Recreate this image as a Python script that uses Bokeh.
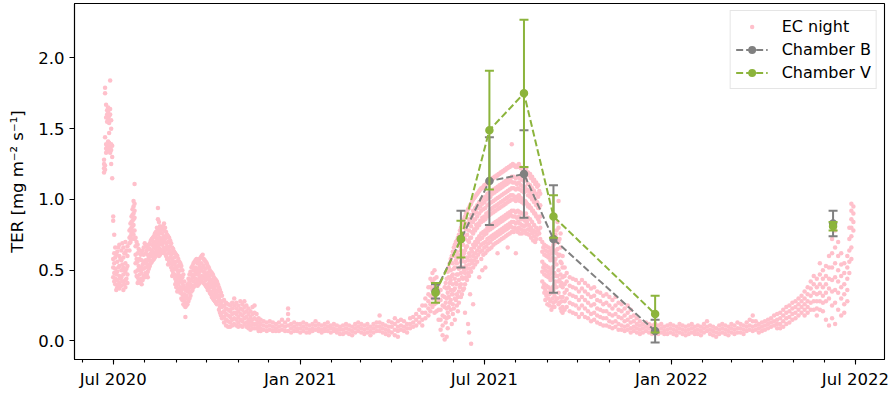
from datetime import datetime
import pandas as pd
from bokeh.plotting import figure
from bokeh.models import (ColumnDataSource, FixedTicker, DatetimeTickFormatter,
                          NumeralTickFormatter, Range1d, Legend, LegendItem)
from bokeh.embed import file_html
from bokeh.resources import INLINE

# ---------------- data ----------------
# EC night-time TER: several readings per date (scatter of the night values)
ec_2020_dates = [
    "2020-06-22", "2020-06-23", "2020-06-24", "2020-06-25", "2020-06-26", "2020-06-27",
    "2020-06-28", "2020-06-29", "2020-06-30", "2020-07-01", "2020-07-02", "2020-07-03",
    "2020-07-05", "2020-07-07", "2020-07-09", "2020-07-11", "2020-07-13", "2020-07-15",
    "2020-07-17", "2020-07-18", "2020-07-19", "2020-07-20", "2020-07-21", "2020-07-22",
    "2020-07-23", "2020-07-25", "2020-07-27", "2020-07-29", "2020-07-31", "2020-08-02",
    "2020-08-04", "2020-08-06", "2020-08-08", "2020-08-10", "2020-08-12", "2020-08-14",
    "2020-08-16", "2020-08-18", "2020-08-20", "2020-08-22", "2020-08-24", "2020-08-26",
    "2020-08-28", "2020-08-30", "2020-09-01", "2020-09-03", "2020-09-05", "2020-09-07",
    "2020-09-09", "2020-09-10", "2020-09-12", "2020-09-14", "2020-09-16", "2020-09-18",
    "2020-09-20", "2020-09-22", "2020-09-24", "2020-09-26", "2020-09-28", "2020-09-30",
    "2020-10-02", "2020-10-04", "2020-10-06", "2020-10-08", "2020-10-10", "2020-10-12",
    "2020-10-14", "2020-10-16", "2020-10-18", "2020-10-20", "2020-10-22", "2020-10-24",
    "2020-10-26", "2020-10-28", "2020-10-30", "2020-11-01", "2020-11-03", "2020-11-05",
    "2020-11-07", "2020-11-09", "2020-11-11", "2020-11-13", "2020-11-15", "2020-11-17",
    "2020-11-19", "2020-11-21", "2020-11-23", "2020-11-26", "2020-11-29", "2020-12-02",
    "2020-12-05", "2020-12-08", "2020-12-11", "2020-12-14", "2020-12-17", "2020-12-20",
    "2020-12-23", "2020-12-26", "2020-12-29",
]
ec_2020_values = [
    [1.19, 1.22, 1.25, 1.28], [1.21, 1.24, 1.44, 1.79, 1.75], [1.33, 1.36, 1.39, 1.67, 1.58],
    [1.35, 1.38, 1.55, 1.60, 1.63], [1.34, 1.37, 1.41, 1.57, 1.62, 1.65], [1.36, 1.40, 1.47, 1.54, 1.59],
    [1.33, 1.37, 1.60, 1.64, 1.84], [1.25, 1.35, 1.39, 1.50, 1.56], [1.15, 1.30, 1.38],
    [0.88, 0.85, 0.45, 0.52, 0.58], [0.75, 0.62, 0.55, 0.48, 0.42], [0.66, 0.59, 0.51, 0.44, 0.40],
    [0.63, 0.56, 0.49, 0.43, 0.38], [0.68, 0.60, 0.53, 0.46, 0.41, 0.37], [0.64, 0.57, 0.50, 0.45, 0.39],
    [0.66, 0.59, 0.52, 0.47, 0.42, 0.36], [0.70, 0.62, 0.55, 0.49, 0.43, 0.38], [0.67, 0.60, 0.53, 0.47, 0.41],
    [0.78, 0.73, 0.69, 0.64], [0.83, 0.79, 0.74, 0.70], [0.88, 0.84, 0.80, 0.76, 0.72],
    [0.93, 0.89, 0.85, 0.81, 0.77], [0.99, 0.95, 0.90, 0.86, 0.82, 0.75], [1.11, 0.97, 0.92, 0.87, 0.78, 0.72],
    [0.73, 0.67, 0.61, 0.55, 0.49], [0.68, 0.62, 0.56, 0.50, 0.45, 0.41], [0.64, 0.58, 0.52, 0.47, 0.43],
    [0.63, 0.57, 0.52, 0.48, 0.44, 0.40], [0.66, 0.61, 0.56, 0.51, 0.46], [0.67, 0.62, 0.57, 0.52, 0.48],
    [0.66, 0.61, 0.57, 0.53, 0.49, 0.45], [0.69, 0.65, 0.61, 0.57, 0.53], [0.72, 0.68, 0.64, 0.60, 0.56],
    [0.74, 0.70, 0.66, 0.62, 0.58], [0.77, 0.73, 0.69, 0.65, 0.61], [0.94, 0.86, 0.79, 0.75, 0.71, 0.67, 0.63],
    [0.81, 0.77, 0.73, 0.69, 0.65, 0.61], [0.80, 0.76, 0.72, 0.68, 0.64], [0.83, 0.78, 0.74, 0.70, 0.66, 0.62],
    [0.77, 0.73, 0.69, 0.65, 0.60], [0.74, 0.70, 0.66, 0.62, 0.58, 0.54], [0.71, 0.67, 0.63, 0.59, 0.55],
    [0.66, 0.62, 0.58, 0.54, 0.50, 0.46], [0.63, 0.59, 0.55, 0.51, 0.47], [0.61, 0.56, 0.51, 0.46, 0.42, 0.38],
    [0.58, 0.53, 0.48, 0.44, 0.40, 0.36], [0.55, 0.50, 0.46, 0.42, 0.38, 0.34], [0.50, 0.45, 0.41, 0.37, 0.33, 0.29],
    [0.42, 0.37, 0.33, 0.29, 0.25], [0.36, 0.31, 0.27, 0.24, 0.17], [0.40, 0.35, 0.30, 0.26],
    [0.47, 0.42, 0.38, 0.34, 0.30], [0.52, 0.47, 0.43, 0.39, 0.35], [0.55, 0.50, 0.46, 0.42, 0.38],
    [0.57, 0.52, 0.48, 0.44, 0.40], [0.55, 0.51, 0.47, 0.43, 0.39], [0.58, 0.53, 0.49, 0.45, 0.41],
    [0.60, 0.55, 0.50, 0.46, 0.42], [0.58, 0.53, 0.49, 0.45, 0.41], [0.56, 0.51, 0.47, 0.43, 0.39],
    [0.53, 0.48, 0.44, 0.40, 0.36], [0.50, 0.46, 0.42, 0.38, 0.34], [0.48, 0.43, 0.39, 0.35, 0.31],
    [0.45, 0.41, 0.37, 0.33, 0.29], [0.43, 0.39, 0.35, 0.31, 0.27], [0.40, 0.36, 0.32, 0.28],
    [0.36, 0.32, 0.28, 0.24, 0.20], [0.32, 0.28, 0.24, 0.20, 0.16], [0.29, 0.25, 0.21, 0.17, 0.13],
    [0.27, 0.23, 0.19, 0.15, 0.11], [0.26, 0.22, 0.18, 0.14, 0.10], [0.25, 0.21, 0.17, 0.13, 0.10],
    [0.27, 0.23, 0.19, 0.15, 0.11], [0.30, 0.25, 0.20, 0.16, 0.12], [0.27, 0.23, 0.19, 0.15, 0.11],
    [0.25, 0.21, 0.17, 0.13, 0.10], [0.28, 0.23, 0.19, 0.15, 0.11], [0.26, 0.22, 0.18, 0.14, 0.10],
    [0.28, 0.24, 0.20, 0.16, 0.12], [0.25, 0.21, 0.17, 0.13, 0.10], [0.23, 0.19, 0.15, 0.12, 0.09],
    [0.21, 0.17, 0.14, 0.11, 0.08], [0.24, 0.19, 0.15, 0.12, 0.09], [0.25, 0.20, 0.16, 0.12, 0.09],
    [0.19, 0.15, 0.12, 0.09], [0.16, 0.13, 0.10, 0.07], [0.15, 0.12, 0.09, 0.07],
    [0.14, 0.11, 0.08], [0.13, 0.10, 0.07], [0.14, 0.11, 0.08],
    [0.13, 0.10, 0.07], [0.12, 0.09, 0.07], [0.13, 0.10, 0.07],
    [0.15, 0.11, 0.08], [0.13, 0.10, 0.07], [0.23, 0.19, 0.15, 0.11, 0.07],
    [0.12, 0.09, 0.06], [0.13, 0.10, 0.07], [0.12, 0.09, 0.07],
]

# extra readings in between, for the noisier parts of 2020
ec_2020_extra_dates = [
    "2020-07-04", "2020-07-06", "2020-07-08", "2020-07-10", "2020-07-12", "2020-07-14",
    "2020-07-24", "2020-07-26", "2020-07-28", "2020-07-30", "2020-08-01", "2020-08-03",
    "2020-08-05", "2020-08-07", "2020-08-09", "2020-08-11", "2020-08-13", "2020-08-15",
    "2020-08-17", "2020-08-19", "2020-08-21", "2020-08-23", "2020-08-25", "2020-08-27",
    "2020-08-29", "2020-08-31", "2020-09-02", "2020-09-04", "2020-09-06", "2020-09-08",
    "2020-09-11", "2020-09-13", "2020-09-15", "2020-09-17", "2020-09-19", "2020-09-21",
    "2020-09-23", "2020-09-25", "2020-09-27", "2020-09-29", "2020-10-01", "2020-10-03",
    "2020-10-05", "2020-10-07", "2020-10-09", "2020-10-11", "2020-10-13", "2020-10-15",
]
ec_2020_extra_values = [
    [0.61, 0.47, 0.36], [0.66, 0.52, 0.40], [0.58, 0.44, 0.39], [0.69, 0.54, 0.42],
    [0.62, 0.50, 0.40], [0.64, 0.51, 0.44], [0.70, 0.58, 0.46], [0.65, 0.53, 0.43],
    [0.61, 0.50, 0.41], [0.64, 0.54, 0.43], [0.69, 0.55, 0.45], [0.64, 0.55, 0.47],
    [0.68, 0.59, 0.51], [0.71, 0.62, 0.55], [0.73, 0.63, 0.57], [0.76, 0.67, 0.59],
    [0.80, 0.71, 0.63], [0.84, 0.76, 0.68, 0.60], [0.79, 0.70, 0.62], [0.81, 0.71, 0.63],
    [0.80, 0.72, 0.64], [0.75, 0.67, 0.58], [0.73, 0.64, 0.56], [0.69, 0.61, 0.52],
    [0.65, 0.56, 0.48], [0.62, 0.53, 0.44, 0.40], [0.60, 0.50, 0.41, 0.35], [0.56, 0.46, 0.37],
    [0.53, 0.43, 0.35, 0.30], [0.47, 0.39, 0.31, 0.26], [0.38, 0.32, 0.25], [0.44, 0.36, 0.28],
    [0.49, 0.40, 0.32], [0.53, 0.45, 0.36], [0.56, 0.47, 0.39], [0.58, 0.50, 0.41],
    [0.56, 0.48, 0.40], [0.59, 0.51, 0.43], [0.61, 0.52, 0.44], [0.57, 0.48, 0.40],
    [0.55, 0.46, 0.38], [0.52, 0.44, 0.36], [0.49, 0.41, 0.33], [0.47, 0.38, 0.30],
    [0.44, 0.36, 0.28], [0.42, 0.34, 0.26], [0.38, 0.30, 0.22], [0.34, 0.26, 0.18],
]

ec_2021_dates = [
    "2021-01-01", "2021-01-04", "2021-01-07", "2021-01-10", "2021-01-13", "2021-01-16",
    "2021-01-19", "2021-01-22", "2021-01-25", "2021-01-28", "2021-01-31", "2021-02-03",
    "2021-02-06", "2021-02-09", "2021-02-12", "2021-02-15", "2021-02-18", "2021-02-21",
    "2021-02-24", "2021-02-27", "2021-03-02", "2021-03-05", "2021-03-08", "2021-03-11",
    "2021-03-14", "2021-03-17", "2021-03-20", "2021-03-23", "2021-03-26", "2021-03-29",
    "2021-04-01", "2021-04-04", "2021-04-07", "2021-04-10", "2021-04-13", "2021-04-16",
    "2021-04-19", "2021-04-22", "2021-04-25", "2021-04-28", "2021-05-01", "2021-05-04",
    "2021-05-07", "2021-05-09", "2021-05-11", "2021-05-13", "2021-05-15", "2021-05-17",
    "2021-05-19", "2021-05-21", "2021-05-23", "2021-05-25", "2021-05-27", "2021-05-29",
    "2021-05-31", "2021-06-02", "2021-06-04", "2021-06-06", "2021-06-08", "2021-06-10",
    "2021-06-12", "2021-06-14", "2021-06-16", "2021-06-18", "2021-06-20", "2021-06-22",
    "2021-06-24", "2021-06-26", "2021-06-28", "2021-06-30", "2021-07-02", "2021-07-04",
    "2021-07-06", "2021-07-08", "2021-07-10", "2021-07-12", "2021-07-14", "2021-07-16",
    "2021-07-18", "2021-07-20", "2021-07-22", "2021-07-24", "2021-07-26", "2021-07-28",
    "2021-07-30", "2021-08-01", "2021-08-03", "2021-08-05", "2021-08-07", "2021-08-09",
    "2021-08-11", "2021-08-13", "2021-08-15", "2021-08-17", "2021-08-19", "2021-08-21",
    "2021-08-23", "2021-08-25", "2021-08-27", "2021-08-29", "2021-08-31", "2021-09-02",
    "2021-09-04", "2021-09-06", "2021-09-08", "2021-09-10", "2021-09-12", "2021-09-14",
    "2021-09-16", "2021-09-18", "2021-09-20", "2021-09-23", "2021-09-26", "2021-09-29",
    "2021-10-02", "2021-10-05", "2021-10-08", "2021-10-11", "2021-10-14", "2021-10-17",
    "2021-10-20", "2021-10-23", "2021-10-26", "2021-10-29", "2021-11-01", "2021-11-04",
    "2021-11-07", "2021-11-10", "2021-11-13", "2021-11-16", "2021-11-19", "2021-11-22",
    "2021-11-25", "2021-11-28", "2021-12-01", "2021-12-04", "2021-12-07", "2021-12-10",
    "2021-12-13", "2021-12-16", "2021-12-19", "2021-12-22", "2021-12-25", "2021-12-28",
    "2021-12-31",
]
ec_2021_values = [
    [0.12, 0.09, 0.06], [0.13, 0.10, 0.07], [0.12, 0.09, 0.06], [0.11, 0.08, 0.06],
    [0.12, 0.09, 0.07], [0.14, 0.11, 0.08], [0.12, 0.09, 0.07], [0.11, 0.08, 0.06],
    [0.12, 0.09, 0.07], [0.13, 0.10, 0.07], [0.11, 0.09, 0.06], [0.12, 0.09, 0.07],
    [0.11, 0.08, 0.06], [0.10, 0.08, 0.05], [0.11, 0.08, 0.05], [0.12, 0.09, 0.06],
    [0.11, 0.08, 0.05], [0.10, 0.07, 0.04], [0.12, 0.09, 0.06], [0.13, 0.10, 0.07],
    [0.12, 0.09, 0.06], [0.11, 0.08, 0.05], [0.12, 0.09, 0.06], [0.10, 0.07, 0.04],
    [0.12, 0.09, 0.06], [0.13, 0.10, 0.07], [0.18, 0.13, 0.10, 0.07], [0.12, 0.09, 0.06],
    [0.11, 0.08, 0.05], [0.14, 0.10, 0.07, 0.04], [0.13, 0.10, 0.06], [0.16, 0.12, 0.08, 0.04],
    [0.14, 0.10, 0.07, 0.03], [0.15, 0.11, 0.08], [0.14, 0.10, 0.07], [0.12, 0.09, 0.06],
    [0.16, 0.12, 0.09], [0.17, 0.13, 0.10], [0.19, 0.15, 0.11], [0.22, 0.17, 0.13],
    [0.25, 0.20, 0.15, 0.11], [0.30, 0.25, 0.20, 0.16],
    [0.38, 0.33, 0.28, 0.23, 0.18], [0.44, 0.38, 0.32, 0.26, 0.21], [0.48, 0.42, 0.36, 0.30, 0.24],
    [0.50, 0.44, 0.38, 0.32, 0.26, 0.20], [0.45, 0.39, 0.33, 0.27, 0.21], [0.40, 0.34, 0.28, 0.22, 0.15],
    [0.36, 0.29, 0.22, 0.15, 0.08], [0.32, 0.25, 0.18, 0.11, 0.04], [0.38, 0.31, 0.24, 0.17, 0.01],
    [0.44, 0.37, 0.30, 0.23, 0.16, 0.03], [0.52, 0.45, 0.38, 0.31, 0.24, 0.17],
    [0.58, 0.50, 0.43, 0.36, 0.29, 0.22], [0.63, 0.55, 0.47, 0.40, 0.33, 0.26, 0.19],
    [0.68, 0.60, 0.52, 0.44, 0.37, 0.30, 0.15], [0.71, 0.63, 0.55, 0.47, 0.40, 0.33, 0.25],
    [0.75, 0.67, 0.59, 0.51, 0.43, 0.35, 0.27], [0.80, 0.72, 0.64, 0.56, 0.48, 0.40, 0.31],
    [0.84, 0.76, 0.68, 0.60, 0.52, 0.44, 0.36], [0.88, 0.80, 0.72, 0.64, 0.56, 0.48, 0.40, 0.20],
    [0.91, 0.83, 0.75, 0.67, 0.59, 0.51, 0.43], [0.94, 0.86, 0.78, 0.70, 0.62, 0.54, 0.46, 0.06],
    [0.97, 0.89, 0.81, 0.73, 0.65, 0.57, 0.49, -0.02], [1.00, 0.92, 0.84, 0.76, 0.68, 0.60, 0.52, 0.26],
    [1.02, 0.94, 0.86, 0.78, 0.70, 0.62, 0.54], [1.04, 0.96, 0.88, 0.80, 0.72, 0.64, 0.56],
    [1.06, 0.98, 0.90, 0.82, 0.74, 0.66, 0.45], [1.08, 1.00, 0.92, 0.84, 0.76, 0.68, 0.58],
    [1.09, 1.01, 0.93, 0.85, 0.77, 0.69, 0.61], [1.10, 1.02, 0.94, 0.86, 0.78, 0.70, 0.62, 0.52],
    [1.12, 1.04, 0.96, 0.88, 0.80, 0.72, 0.64], [1.13, 1.05, 0.97, 0.89, 0.81, 0.73, 0.65],
    [1.14, 1.06, 0.98, 0.90, 0.82, 0.74, 0.66], [1.15, 1.07, 0.99, 0.91, 0.83, 0.75, 0.68],
    [1.16, 1.08, 1.00, 0.92, 0.84, 0.76, 0.69], [1.17, 1.09, 1.01, 0.93, 0.85, 0.77, 0.70, 0.62],
    [1.18, 1.10, 1.02, 0.94, 0.86, 0.78, 0.71], [1.19, 1.11, 1.03, 0.95, 0.87, 0.79, 0.72],
    [1.20, 1.12, 1.04, 0.96, 0.88, 0.80, 0.73], [1.21, 1.13, 1.05, 0.97, 0.89, 0.81, 0.74],
    [1.22, 1.14, 1.06, 0.98, 0.90, 0.82, 0.75, 0.66], [1.23, 1.15, 1.07, 0.99, 0.91, 0.83, 0.76],
    [1.39, 1.24, 1.16, 1.08, 1.00, 0.92, 0.84, 0.77], [1.24, 1.16, 1.08, 1.00, 0.92, 0.84, 0.77],
    [1.23, 1.15, 1.07, 0.99, 0.91, 0.83, 0.62], [1.24, 1.16, 1.08, 1.00, 0.92, 0.84, 0.77],
    [1.23, 1.15, 1.07, 0.99, 0.91, 0.83, 0.76], [1.22, 1.14, 1.06, 0.98, 0.90, 0.82, 0.76],
    [1.21, 1.13, 1.05, 0.97, 0.89, 0.81], [1.22, 1.14, 1.06, 0.98, 0.90, 0.82, 0.76],
    [1.19, 1.11, 1.03, 0.95, 0.87, 0.79], [1.18, 1.10, 1.02, 0.94, 0.86, 0.78],
    [1.16, 1.08, 1.00, 0.92, 0.84, 0.76], [1.14, 1.06, 0.98, 0.90, 0.82, 0.74],
    [1.12, 1.04, 0.96, 0.88, 0.80, 0.72], [1.10, 1.02, 0.94, 0.86, 0.78],
    [1.04, 0.96, 0.88, 0.80, 0.72], [0.70, 0.63, 0.56, 0.49, 0.42],
    [0.68, 0.61, 0.54, 0.47, 0.40, 0.34], [0.67, 0.60, 0.53, 0.46, 0.39, 0.32],
    [0.66, 0.59, 0.52, 0.45, 0.38, 0.30], [0.64, 0.57, 0.50, 0.43, 0.36, 0.28],
    [0.66, 0.59, 0.52, 0.45, 0.38, 0.30, 0.24], [0.72, 0.64, 0.56, 0.48, 0.40, 0.32, 0.24],
    [0.78, 0.70, 0.62, 0.54, 0.46, 0.38, 0.30], [0.99, 0.80, 0.70, 0.60, 0.50, 0.42, 0.34, 0.26],
    [0.76, 0.66, 0.56, 0.47, 0.39, 0.31, 0.23], [0.60, 0.52, 0.45, 0.38, 0.31, 0.24, 0.20],
    [0.52, 0.46, 0.40, 0.34, 0.28, 0.22], [0.48, 0.42, 0.36, 0.30, 0.24],
    [0.45, 0.39, 0.33, 0.27, 0.21], [0.44, 0.38, 0.32, 0.26, 0.20], [0.43, 0.37, 0.31, 0.25, 0.19],
    [0.41, 0.35, 0.29, 0.23, 0.17], [0.43, 0.37, 0.31, 0.25, 0.19], [0.41, 0.35, 0.29, 0.23, 0.17],
    [0.39, 0.33, 0.27, 0.21, 0.16], [0.37, 0.31, 0.25, 0.19, 0.14], [0.38, 0.32, 0.26, 0.20, 0.15],
    [0.35, 0.29, 0.23, 0.18, 0.13], [0.34, 0.28, 0.22, 0.17, 0.12], [0.32, 0.26, 0.21, 0.16, 0.11],
    [0.33, 0.27, 0.21, 0.16, 0.11], [0.31, 0.25, 0.19, 0.14, 0.10], [0.29, 0.23, 0.18, 0.13, 0.09],
    [0.31, 0.25, 0.19, 0.14, 0.10], [0.27, 0.22, 0.17, 0.12, 0.08], [0.26, 0.21, 0.16, 0.11, 0.08],
    [0.23, 0.18, 0.14, 0.10, 0.07], [0.25, 0.20, 0.15, 0.11, 0.08], [0.22, 0.17, 0.13, 0.09, 0.06],
    [0.18, 0.14, 0.10, 0.07], [0.16, 0.12, 0.09, 0.06], [0.14, 0.11, 0.08, 0.05],
    [0.12, 0.09, 0.06], [0.13, 0.10, 0.07], [0.12, 0.09, 0.06],
    [0.11, 0.08, 0.05], [0.12, 0.09, 0.06], [0.11, 0.08, 0.05], [0.12, 0.09, 0.06],
    [0.10, 0.07, 0.05], [0.11, 0.08, 0.05], [0.12, 0.09, 0.06],
]

# extra readings in between, for the dense summer of 2021
ec_2021_extra_dates = [
    "2021-05-24", "2021-05-26", "2021-05-28", "2021-05-30", "2021-06-01", "2021-06-03",
    "2021-06-05", "2021-06-07", "2021-06-09", "2021-06-11", "2021-06-13", "2021-06-15",
    "2021-06-17", "2021-06-19", "2021-06-21", "2021-06-23", "2021-06-25", "2021-06-27",
    "2021-06-29", "2021-07-01", "2021-07-03", "2021-07-05", "2021-07-07", "2021-07-09",
    "2021-07-11", "2021-07-13", "2021-07-15", "2021-07-17", "2021-07-19", "2021-07-21",
    "2021-07-23", "2021-07-25", "2021-07-27", "2021-07-29", "2021-07-31", "2021-08-02",
    "2021-08-04", "2021-08-06", "2021-08-08", "2021-08-10", "2021-08-12", "2021-08-14",
    "2021-08-16", "2021-08-18", "2021-08-20", "2021-08-22", "2021-08-24", "2021-08-28",
    "2021-08-30", "2021-09-01", "2021-09-03", "2021-09-05", "2021-09-07", "2021-09-09",
    "2021-09-11", "2021-09-13", "2021-09-15",
]
ec_2021_extra_values = [
    [0.41, 0.27, 0.13], [0.49, 0.34, 0.20, 0.09], [0.55, 0.41, 0.27], [0.60, 0.46, 0.33, 0.12],
    [0.66, 0.51, 0.36, 0.23], [0.70, 0.57, 0.41, 0.29], [0.73, 0.61, 0.47, 0.31, 0.21],
    [0.78, 0.68, 0.52, 0.38], [0.82, 0.70, 0.58, 0.45, 0.33], [0.86, 0.74, 0.62, 0.50, 0.37],
    [0.90, 0.79, 0.66, 0.53, 0.45], [0.93, 0.82, 0.71, 0.57, 0.48, 0.12],
    [0.96, 0.84, 0.73, 0.60, 0.51, 0.33], [0.99, 0.87, 0.77, 0.63, 0.55],
    [1.01, 0.90, 0.79, 0.66, 0.57], [1.03, 0.91, 0.82, 0.68, 0.59], [1.05, 0.94, 0.83, 0.70, 0.61],
    [1.07, 0.95, 0.85, 0.72, 0.63], [1.08, 0.97, 0.87, 0.73, 0.64, 0.50],
    [1.10, 0.98, 0.88, 0.75, 0.66], [1.11, 1.00, 0.90, 0.76, 0.67], [1.13, 1.01, 0.91, 0.78, 0.69],
    [1.14, 1.02, 0.93, 0.79, 0.70], [1.15, 1.04, 0.94, 0.80, 0.72], [1.16, 1.05, 0.95, 0.81, 0.73],
    [1.17, 1.06, 0.96, 0.82, 0.74], [1.18, 1.07, 0.97, 0.83, 0.75], [1.19, 1.08, 0.98, 0.84, 0.76],
    [1.20, 1.09, 0.99, 0.85, 0.77], [1.21, 1.10, 1.00, 0.86, 0.78], [1.22, 1.11, 1.01, 0.87, 0.79],
    [1.23, 1.12, 1.02, 0.88, 0.80], [1.24, 1.13, 1.03, 0.89, 0.81], [1.25, 1.12, 1.03, 0.88, 0.80],
    [1.24, 1.12, 1.02, 0.88, 0.80], [1.23, 1.11, 1.02, 0.87, 0.79], [1.25, 1.12, 1.03, 0.88, 0.80],
    [1.22, 1.10, 1.01, 0.86, 0.79], [1.21, 1.09, 1.00, 0.86, 0.78], [1.20, 1.09, 0.99, 0.85, 0.78],
    [1.19, 1.07, 0.97, 0.84, 0.76], [1.17, 1.06, 0.96, 0.82, 0.75], [1.15, 1.04, 0.94, 0.80, 0.73],
    [1.13, 1.02, 0.92, 0.78, 0.71], [1.11, 1.00, 0.90, 0.77, 0.70], [1.09, 0.98, 0.88, 0.75],
    [1.06, 0.94, 0.84, 0.76], [0.66, 0.52, 0.38], [0.64, 0.50, 0.36, 0.29],
    [0.63, 0.49, 0.34, 0.26], [0.61, 0.47, 0.33, 0.25], [0.62, 0.48, 0.34, 0.22],
    [0.68, 0.52, 0.36, 0.27], [0.75, 0.58, 0.42, 0.28], [0.84, 0.65, 0.46, 0.30],
    [0.72, 0.61, 0.43, 0.27], [0.55, 0.41, 0.28, 0.21],
]

ec_2022_dates = [
    "2022-01-03", "2022-01-06", "2022-01-09", "2022-01-12", "2022-01-15", "2022-01-18",
    "2022-01-21", "2022-01-24", "2022-01-27", "2022-01-30", "2022-02-02", "2022-02-05",
    "2022-02-08", "2022-02-11", "2022-02-14", "2022-02-17", "2022-02-20", "2022-02-23",
    "2022-02-26", "2022-03-01", "2022-03-04", "2022-03-07", "2022-03-10", "2022-03-13",
    "2022-03-16", "2022-03-19", "2022-03-22", "2022-03-25", "2022-03-28", "2022-03-31",
    "2022-04-03", "2022-04-06", "2022-04-09", "2022-04-12", "2022-04-15", "2022-04-18",
    "2022-04-21", "2022-04-24", "2022-04-27", "2022-04-30", "2022-05-03", "2022-05-06",
    "2022-05-09", "2022-05-12", "2022-05-15", "2022-05-18", "2022-05-21", "2022-05-24",
    "2022-05-27", "2022-05-30", "2022-06-02", "2022-06-05", "2022-06-08", "2022-06-11",
    "2022-06-14", "2022-06-17", "2022-06-20", "2022-06-23", "2022-06-25", "2022-06-27",
    "2022-06-29",
]
ec_2022_values = [
    [0.11, 0.08, 0.05], [0.10, 0.07, 0.04], [0.12, 0.09, 0.06], [0.11, 0.08, 0.05],
    [0.10, 0.07, 0.04], [0.11, 0.08, 0.05], [0.12, 0.09, 0.06], [0.10, 0.07, 0.05],
    [0.11, 0.08, 0.05], [0.10, 0.07, 0.04], [0.12, 0.09, 0.06], [0.14, 0.10, 0.07],
    [0.11, 0.08, 0.05], [0.10, 0.07, 0.04], [0.09, 0.06, 0.03], [0.11, 0.08, 0.05],
    [0.12, 0.09, 0.06], [0.11, 0.08, 0.05], [0.10, 0.07, 0.04], [0.12, 0.09, 0.06],
    [0.11, 0.08, 0.05], [0.13, 0.09, 0.06], [0.12, 0.09, 0.06], [0.11, 0.08, 0.05],
    [0.13, 0.10, 0.07], [0.15, 0.11, 0.08], [0.18, 0.14, 0.10, 0.07], [0.14, 0.11, 0.08],
    [0.12, 0.09, 0.06], [0.13, 0.10, 0.07], [0.14, 0.11, 0.08], [0.15, 0.12, 0.09],
    [0.16, 0.13, 0.10], [0.18, 0.14, 0.11], [0.19, 0.15, 0.12, 0.09], [0.20, 0.16, 0.12, 0.09],
    [0.22, 0.18, 0.14, 0.10], [0.24, 0.20, 0.16, 0.12], [0.25, 0.21, 0.17, 0.13],
    [0.27, 0.23, 0.19, 0.15], [0.28, 0.24, 0.20, 0.16], [0.30, 0.26, 0.22, 0.18],
    [0.32, 0.28, 0.24, 0.20], [0.35, 0.30, 0.26, 0.22, 0.18], [0.38, 0.33, 0.28, 0.24, 0.20],
    [0.42, 0.37, 0.32, 0.27, 0.22], [0.46, 0.40, 0.34, 0.28, 0.22], [0.44, 0.38, 0.33, 0.28, 0.23, 0.18],
    [0.55, 0.47, 0.40, 0.34, 0.28, 0.22], [0.50, 0.44, 0.38, 0.32, 0.27, 0.21],
    [0.53, 0.46, 0.40, 0.34, 0.28, 0.15], [0.60, 0.52, 0.44, 0.37, 0.30, 0.11],
    [0.72, 0.62, 0.52, 0.43, 0.35, 0.25, 0.16], [0.78, 0.66, 0.55, 0.45, 0.36, 0.27, 0.12],
    [0.70, 0.60, 0.50, 0.42, 0.34, 0.22], [0.62, 0.54, 0.46, 0.38, 0.30, 0.18],
    [0.55, 0.48, 0.40, 0.33, 0.26, 0.20], [0.60, 0.52, 0.44, 0.36, 0.28],
    [0.80, 0.72, 0.64, 0.56, 0.48], [0.97, 0.92, 0.86, 0.80, 0.74, 0.66, 0.58],
    [0.95, 0.90, 0.84, 0.78],
]

# Chamber campaigns: mean TER and error (half-length of the error bar)
chamber_dates = ["2021-05-14", "2021-06-08", "2021-07-06", "2021-08-09",
                 "2021-09-07", "2021-12-16", "2022-06-09"]
chamber_b_mean = [0.35, 0.72, 1.13, 1.18, 0.72, 0.07, 0.83]
chamber_b_err = [0.05, 0.20, 0.31, 0.31, 0.38, 0.08, 0.09]
chamber_v_mean = [0.34, 0.72, 1.49, 1.75, 0.88, 0.19, 0.81]
chamber_v_err = [0.07, 0.13, 0.42, 0.52, 0.15, 0.13, 0.03]
connected_campaigns = 6   # the first six campaigns are joined by a dashed line

x_major_ticks = ["2020-07-01", "2021-01-01", "2021-07-01", "2022-01-01", "2022-07-01"]
y_ticks = [0.0, 0.5, 1.0, 1.5, 2.0]

# ---------------- build ----------------
FONT = "DejaVu Sans"
PINK = "pink"
GREY = "#808080"
GREEN = "#8cb43c"

ec_x, ec_y = [], []
for dates, values in ((ec_2020_dates, ec_2020_values), (ec_2020_extra_dates, ec_2020_extra_values),
                      (ec_2021_dates, ec_2021_values), (ec_2021_extra_dates, ec_2021_extra_values),
                      (ec_2022_dates, ec_2022_values)):
    for d, vals in zip(dates, values):
        for v in vals:
            ec_x.append(pd.Timestamp(d))
            ec_y.append(v)

ch_x = pd.to_datetime(chamber_dates)

def ms(ts):
    return [pd.Timestamp(t).value / 1e6 for t in ts]

major_ms = ms(x_major_ticks)
minor_ms = ms(pd.date_range("2020-06-01", "2022-07-01", freq="MS"))

p = figure(width=891, height=396, x_axis_type="datetime",
           output_backend="svg", toolbar_location=None,
           x_range=Range1d(datetime(2020, 5, 23, 22, 30), datetime(2022, 7, 29, 14, 0)),
           y_range=Range1d(-0.131, 2.385),
           min_border_left=74, min_border_right=7, min_border_top=3, min_border_bottom=37)
p.xgrid.visible = False
p.ygrid.visible = False
p.outline_line_color = "black"
p.outline_line_width = 1.1
p.background_fill_color = "white"
p.border_fill_color = "white"

ec_src = ColumnDataSource(dict(x=ec_x, y=ec_y))
ec_r = p.scatter("x", "y", source=ec_src, marker="circle", size=4.5,
                 fill_color=PINK, line_color=PINK, line_width=0)

def chamber(mean, err, color):
    src = ColumnDataSource(dict(x=ch_x, y=mean,
                                lo=[m - e for m, e in zip(mean, err)],
                                hi=[m + e for m, e in zip(mean, err)]))
    n = connected_campaigns
    line_src = ColumnDataSource(dict(x=ch_x[:n], y=mean[:n]))
    ln = p.line("x", "y", source=line_src, line_color=color, line_width=2, line_dash="7 3")
    p.segment(x0="x", y0="lo", x1="x", y1="hi", source=src, line_color=color, line_width=2)
    p.scatter("x", "hi", source=src, marker="dash", size=9, line_color=color, line_width=2)
    p.scatter("x", "lo", source=src, marker="dash", size=9, line_color=color, line_width=2)
    # small circle with a thick outline: ~8.5 px in the plot, ~8 px in the legend
    pts = p.scatter("x", "y", source=src, marker="circle", size=5, fill_color=color,
                    line_color=color, line_width=3.5)
    return ln, pts

b_line, b_pts = chamber(chamber_b_mean, chamber_b_err, GREY)
v_line, v_pts = chamber(chamber_v_mean, chamber_v_err, GREEN)

# axes
p.xaxis.ticker = FixedTicker(ticks=major_ms, minor_ticks=minor_ms)
p.xaxis.formatter = DatetimeTickFormatter(years="%b %Y", months="%b %Y", days="%b %Y",
                                          hours="%b %Y", minutes="%b %Y", seconds="%b %Y")
p.yaxis.ticker = FixedTicker(ticks=y_ticks, minor_ticks=[])
p.yaxis.formatter = NumeralTickFormatter(format="0.0")
p.yaxis.axis_label = "TER [mg m\u207b\u00b2 s\u207b\u00b9]"

for ax in (p.xaxis[0], p.yaxis[0]):
    ax.axis_line_color = "black"
    ax.axis_line_width = 1.1
    ax.major_tick_line_color = "black"
    ax.major_tick_line_width = 1.1
    ax.minor_tick_line_color = "black"
    ax.minor_tick_line_width = 1.1
    ax.major_tick_out = 5
    ax.major_tick_in = 0
    ax.minor_tick_out = 3
    ax.minor_tick_in = 0
    ax.major_label_standoff = 5
    ax.major_label_text_font = FONT
    ax.major_label_text_font_size = "16.5px"
    ax.major_label_text_color = "black"
    ax.axis_label_text_font = FONT
    ax.axis_label_text_font_size = "16.5px"
    ax.axis_label_text_font_style = "normal"
    ax.axis_label_text_color = "black"
p.yaxis.axis_label_standoff = 8

legend = Legend(items=[
    LegendItem(label="EC night", renderers=[ec_r]),
    LegendItem(label="Chamber B", renderers=[b_line, b_pts]),
    LegendItem(label="Chamber V", renderers=[v_line, v_pts]),
], location="top_right")
legend.label_text_font = FONT
legend.label_text_font_size = "16px"
legend.label_text_color = "black"
legend.border_line_color = "#cccccc"
legend.border_line_width = 1
legend.background_fill_color = "white"
legend.background_fill_alpha = 0.8
legend.padding = 5
legend.spacing = 2
legend.margin = 7
legend.glyph_width = 32
legend.glyph_height = 11
legend.label_height = 21
legend.label_standoff = 14
p.add_layout(legend)

open("out.html", "w").write(file_html(p, INLINE))
